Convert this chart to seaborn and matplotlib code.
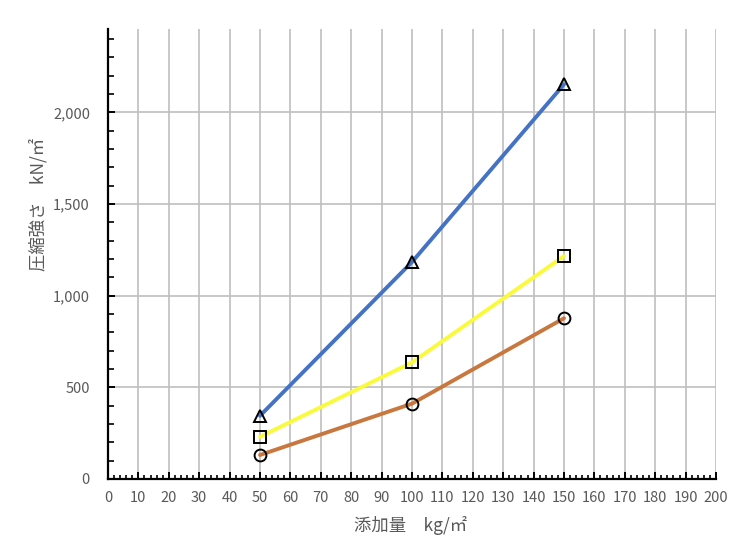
import matplotlib
matplotlib.use("Agg")
import matplotlib.pyplot as plt
import seaborn as sns
import pandas as pd
from matplotlib.ticker import MultipleLocator, FuncFormatter

# ---- data ----
amount = [50, 100, 150]
series_tri = [345, 1184, 2153]
series_sq = [230, 636, 1216]
series_circ = [131, 411, 877]
x_label = "添加量　kg/㎡"
y_label = "圧縮強さ　kN/㎡"

sns.set_theme(style="white")
plt.rcParams['font.family'] = ['Noto Sans CJK JP', 'DejaVu Sans']

fig = plt.figure(figsize=(7.56, 5.42), dpi=100)
ax = fig.add_axes([108/756, 1-479/542, 608/756, 450/542])

specs = [
    (series_tri, "#4472C4", "^"),
    (series_sq, "#FAFA3C", "s"),
    (series_circ, "#C8783F", "o"),
]
for vals, col, mk in specs:
    df = pd.DataFrame({"x": amount, "y": vals})
    sns.lineplot(data=df, x="x", y="y", ax=ax, color=col, linewidth=2.8,
                 marker=mk, markersize=8.5, markerfacecolor="none",
                 markeredgecolor="black", markeredgewidth=1.4, zorder=3)

ax.set_xlim(0, 200)
ax.set_ylim(0, 2455)
ax.xaxis.set_major_locator(MultipleLocator(10))
ax.xaxis.set_minor_locator(MultipleLocator(2))
ax.yaxis.set_major_locator(MultipleLocator(500))
ax.yaxis.set_minor_locator(MultipleLocator(100))
ax.yaxis.set_major_formatter(FuncFormatter(lambda v, p: f"{int(v):,}"))

ax.grid(True, which="major", color="#BFBFBF", linewidth=1.2)
ax.set_axisbelow(True)

for s in ["top", "right"]:
    ax.spines[s].set_visible(False)
for s in ["left", "bottom"]:
    ax.spines[s].set_color("black")
    ax.spines[s].set_linewidth(1.6)

ax.tick_params(axis="both", which="major", direction="in", length=5, width=1.4,
               color="black", labelsize=10.5, labelcolor="#595959")
ax.tick_params(axis="x", which="major", pad=9)
ax.tick_params(axis="y", which="major", pad=13)
ax.tick_params(axis="x", which="minor", direction="in", length=3, width=1.2,
               color="black")
ax.tick_params(axis="y", which="minor", direction="in", length=4, width=1.2,
               color="black")
ax.tick_params(axis="both", which="both", bottom=True, left=True)

ax.set_xlabel(x_label, fontsize=12.5, color="#595959")
ax.set_ylabel(y_label, fontsize=12.5, color="#595959")
ax.xaxis.set_label_coords(0.497, -0.083)
ax.yaxis.set_label_coords(-0.1, 0.61)

fig.savefig("out.png", dpi=100)
